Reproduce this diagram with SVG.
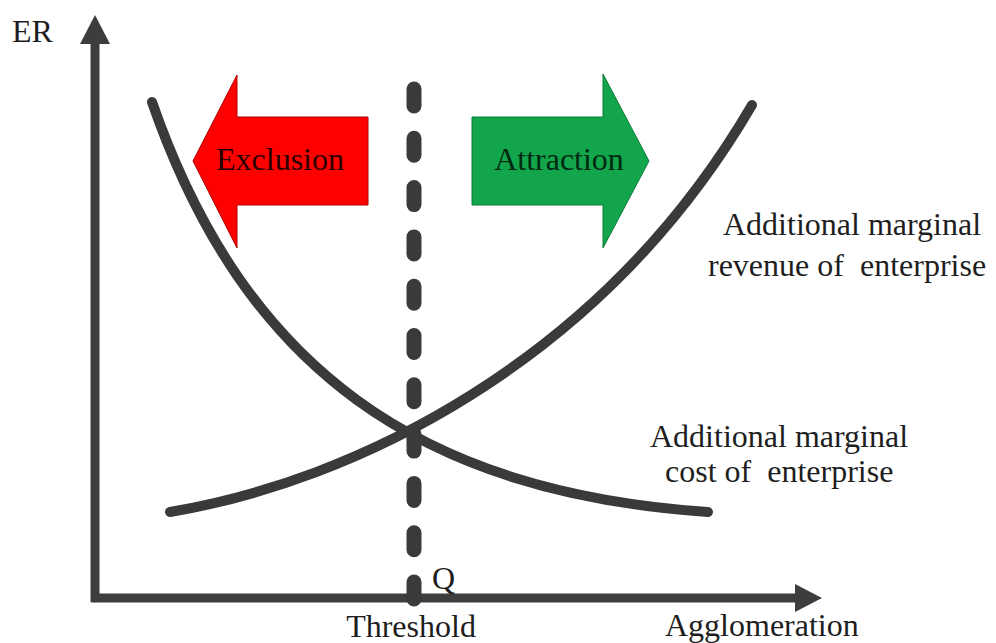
<svg xmlns="http://www.w3.org/2000/svg" width="996" height="643" viewBox="0 0 996 643">
  <style>
    .lbl { font-family: "Liberation Serif", "Times New Roman", serif; font-size: 32px; fill: #1e1e1e; }
    .axis { stroke: #3d3d3d; stroke-width: 9; fill: none; }
    .head { fill: #3d3d3d; }
    .curve { stroke: #3a3a3a; stroke-width: 10; fill: none; stroke-linecap: round; }
    .thresh { stroke: #3a3a3a; stroke-width: 15; fill: none; stroke-linecap: round; stroke-dasharray: 17 32.3; }
  </style>
  <rect width="996" height="643" fill="#ffffff"/>

  <!-- axes -->
  <g id="axes">
    <line class="axis" x1="95" y1="602" x2="95" y2="40"/>
    <polygon class="head" points="95,15 80,44 110,44"/>
    <line class="axis" x1="91" y1="598" x2="798" y2="598"/>
    <polygon class="head" points="822,598 795,584 795,612"/>
    <text class="lbl" x="12" y="42">ER</text>
    <text class="lbl" x="665" y="636">Agglomeration</text>
  </g>

  <!-- direction arrows -->
  <g id="exclusion">
    <polygon points="193,161 237,75 237,117 368,117 368,205 237,205 237,248" fill="#ff0000" stroke="#b00000" stroke-width="1"/>
    <text class="lbl" x="280" y="170" text-anchor="middle" style="fill:#2a0000">Exclusion</text>
  </g>
  <g id="attraction">
    <polygon points="472,117 603,117 603,74 649,161 603,248 603,205 472,205" fill="#12a54c" stroke="#0c7a36" stroke-width="1"/>
    <text class="lbl" x="559" y="170" text-anchor="middle" style="fill:#002a10">Attraction</text>
  </g>

  <!-- curves and threshold -->
  <g id="connectors">
    <path id="cost-curve" class="curve" d="M152,102 C245,370 420,492 708,512"/>
    <path id="revenue-curve" class="curve" d="M170,512 C350,482 600,365 752,105"/>
    <line id="threshold-line" class="thresh" x1="414" y1="89" x2="414" y2="600"/>
  </g>

  <!-- curve labels -->
  <g id="revenue-label">
    <text class="lbl" x="723" y="235">Additional marginal</text>
    <text class="lbl" x="708" y="276" xml:space="preserve">revenue of  enterprise</text>
  </g>
  <g id="cost-label">
    <text class="lbl" x="650" y="447">Additional marginal</text>
    <text class="lbl" x="665" y="482" xml:space="preserve">cost of  enterprise</text>
  </g>
  <g id="threshold-label">
    <text class="lbl" x="432" y="589">Q</text>
    <text class="lbl" x="411" y="637" text-anchor="middle">Threshold</text>
  </g>
</svg>
